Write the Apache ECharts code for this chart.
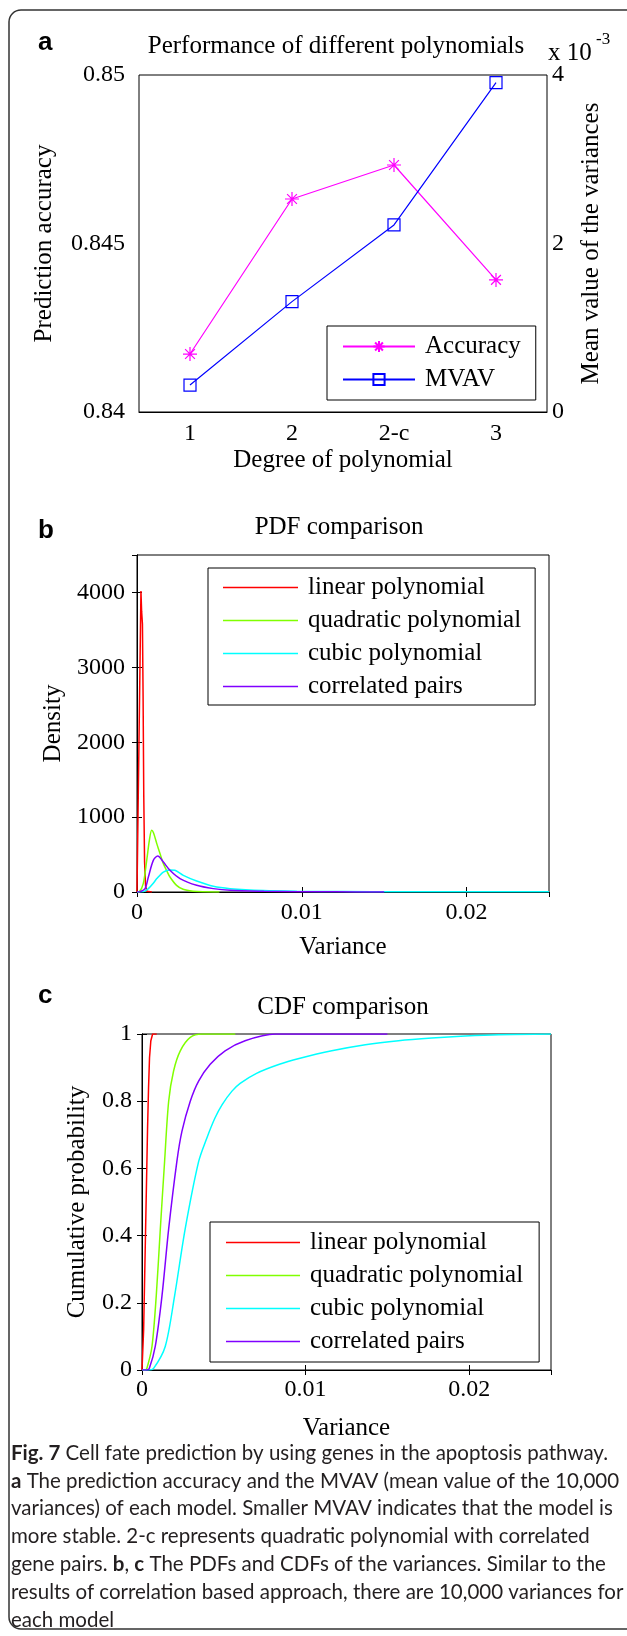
<!DOCTYPE html>
<html>
<head>
<meta charset="utf-8">
<script src="https://cdn.jsdelivr.net/npm/echarts@6/dist/echarts.min.js"></script>
<style>
  html, body { margin: 0; padding: 0; background: #fff; }
  #fig { width: 627px; height: 1636px; }
</style>
</head>
<body>
<div id="fig"></div>
<script>
// ---- panel a: performance of the polynomials ----
const degrees = ['1', '2', '2-c', '3'];
const accuracy = [0.84172, 0.84632, 0.84733, 0.84392];
const mvav = [0.32, 1.31, 2.22, 3.91]; // x 10^-3

// ---- panel b: PDF of the variances ----
const pdfLinearX = [0, 0.00006, 0.00012, 0.00018, 0.00024, 0.00028, 0.00033, 0.00037, 0.00041, 0.00046, 0.00052, 0.0006, 0.0009];
const pdfLinearY = [0, 1000, 2000, 3000, 4020, 3750, 3580, 2600, 1300, 400, 80, 10, 0];
const pdfQuadX = [0, 0.00014, 0.00038, 0.00059, 0.00075, 0.00089, 0.001, 0.0012, 0.0014, 0.0016, 0.0018, 0.002, 0.0024, 0.0028, 0.0034, 0.004, 0.005];
const pdfQuadY = [0, 5, 112, 423, 690, 824, 790, 646, 510, 379, 285, 200, 89, 36, 10, 2, 0];
const pdfCubicX = [0, 0.0004, 0.00069, 0.001, 0.0012, 0.0016, 0.002, 0.0023, 0.00281, 0.00362, 0.00463, 0.00565, 0.00767, 0.0097, 0.0125, 0.016, 0.02, 0.025];
const pdfCubicY = [0, 5, 45, 120, 179, 267, 295, 290, 223, 147, 76, 45, 19, 10, 6, 4, 3, 2];
const pdfCorrX = [0, 0.0002, 0.00049, 0.00069, 0.00099, 0.00126, 0.0016, 0.002, 0.00261, 0.00362, 0.00463, 0.00565, 0.0077, 0.0097, 0.012, 0.015];
const pdfCorrY = [0, 5, 45, 200, 423, 481, 400, 290, 179, 89, 45, 22, 10, 5, 2, 0];

// ---- panel c: CDF of the variances ----
const cdfLinearX = [0, 0.00004, 0.0001, 0.00016, 0.00022, 0.00028, 0.00034, 0.0004, 0.00046, 0.00054, 0.00065, 0.0009];
const cdfLinearY = [0, 0, 0.12, 0.27, 0.42, 0.57, 0.72, 0.84, 0.93, 0.98, 1, 1];
const cdfQuadX = [0, 0.0002, 0.0003, 0.00061, 0.00087, 0.00112, 0.00138, 0.00163, 0.00193, 0.00234, 0.00295, 0.00366, 0.0057];
const cdfQuadY = [0, 0, 0.005, 0.07, 0.22, 0.42, 0.62, 0.8, 0.89, 0.95, 0.99, 1, 1];
const cdfCubicX = [0, 0.0004, 0.00071, 0.00142, 0.00199, 0.00264, 0.00346, 0.00396, 0.00446, 0.0049, 0.0055, 0.006, 0.007, 0.0084, 0.0096, 0.0116, 0.01365, 0.01568, 0.01771, 0.01975, 0.0218, 0.025];
const cdfCubicY = [0, 0, 0.005, 0.07, 0.22, 0.42, 0.62, 0.69, 0.75, 0.79, 0.83, 0.853, 0.883, 0.91, 0.927, 0.95, 0.968, 0.98, 0.988, 0.994, 0.998, 1];
const cdfCorrX = [0, 0.0003, 0.00045, 0.00081, 0.00122, 0.00163, 0.00213, 0.00244, 0.00295, 0.00346, 0.00417, 0.00508, 0.0063, 0.00813, 0.015];
const cdfCorrY = [0, 0, 0.005, 0.07, 0.22, 0.42, 0.62, 0.71, 0.8, 0.86, 0.91, 0.95, 0.98, 1, 1];

const modelNames = ['linear polynomial', 'quadratic polynomial', 'cubic polynomial', 'correlated pairs'];
const modelColors = ['#ff0000', '#80ff00', '#00ffff', '#8000ff'];

const captionLines = [
  '{b|Fig. 7} Cell fate prediction by using genes in the apoptosis pathway.',
  '{b|a} The prediction accuracy and the MVAV (mean value of the 10,000',
  'variances) of each model. Smaller MVAV indicates that the model is',
  'more stable. 2-c represents quadratic polynomial with correlated',
  'gene pairs. {b|b}, {b|c} The PDFs and CDFs of the variances. Similar to the',
  'results of correlation based approach, there are 10,000 variances for',
  'each model'
];

const SERIF = "'Liberation Serif', 'Times New Roman', serif";
const CAPTION_FONT = 'Lato, "Open Sans", sans-serif';
const zip = (xs, ys) => xs.map((x, i) => [x, ys[i]]);

const chart = echarts.init(document.getElementById('fig'), null, { renderer: 'canvas' });

const tickStyle = { inside: true, length: 5, lineStyle: { color: '#000' } };
const lineBlack = { lineStyle: { color: '#000', width: 1 } };
const labelStyle = (margin) => ({ color: '#000', fontFamily: SERIF, fontSize: 24, margin: margin, formatter: (v) => String(v) });
const nameStyle = { color: '#000', fontFamily: SERIF, fontSize: 25 };

function valueAxis(grid, min, max, interval, extra) {
  return Object.assign({
    gridIndex: grid, type: 'value', min: min, max: max, interval: interval,
    axisLine: lineBlack, axisTick: tickStyle, splitLine: { show: false }
  }, extra);
}
const mirror = { axisLabel: { show: false } };

function legendBox(names, left, top, itemWidth, padding, lineIcon) {
  const box = {
    data: names, orient: 'vertical', left: left, top: top,
    padding: padding, itemWidth: itemWidth, itemHeight: 14, itemGap: 8,
    borderColor: '#000', borderWidth: 1, backgroundColor: '#fff',
    selectedMode: false,
    textStyle: { color: '#000', fontFamily: SERIF, fontSize: 25, lineHeight: 25, padding: [0, 0, 0, 5] }
  };
  if (lineIcon) {
    // plain line sample, no marker
    box.icon = 'rect';
    box.itemHeight = 1.6;
  }
  return box;
}

function curve(name, color, xs, ys, x, y, smooth) {
  return {
    name: name, type: 'line', xAxisIndex: x, yAxisIndex: y,
    data: zip(xs, ys), symbol: 'none', smooth: smooth,
    lineStyle: { color: color, width: 1.5 }, itemStyle: { color: color }
  };
}

const labelFont = 'bold 26px "Liberation Sans", Arial, sans-serif';
const graphics = [
  { type: 'rect', shape: { x: 9, y: 10, width: 680, height: 1619, r: 12 },
    style: { fill: 'none', stroke: '#333', lineWidth: 1.5 } },
  { type: 'text', x: 38, y: 43, style: { text: 'a', font: labelFont, fill: '#000', verticalAlign: 'middle' } },
  { type: 'text', x: 38, y: 531, style: { text: 'b', font: labelFont, fill: '#000', verticalAlign: 'middle' } },
  { type: 'text', x: 38, y: 996, style: { text: 'c', font: labelFont, fill: '#000', verticalAlign: 'middle' } },
  { type: 'text', x: 336, y: 46, style: { text: 'Performance of different polynomials', font: '25px ' + SERIF, fill: '#000', align: 'center', verticalAlign: 'middle' } },
  { type: 'text', x: 339, y: 527, style: { text: 'PDF comparison', font: '25px ' + SERIF, fill: '#000', align: 'center', verticalAlign: 'middle' } },
  { type: 'text', x: 343, y: 1007, style: { text: 'CDF comparison', font: '25px ' + SERIF, fill: '#000', align: 'center', verticalAlign: 'middle' } },
  { type: 'text', x: 548, y: 53, style: { text: 'x 10', font: '25px ' + SERIF, fill: '#000', verticalAlign: 'middle' } },
  { type: 'text', x: 596, y: 40, style: { text: '-3', font: '17px ' + SERIF, fill: '#000', verticalAlign: 'middle' } }
];
captionLines.forEach((line, i) => {
  graphics.push({
    type: 'text', x: 11, y: 1453 + i * 27.9,
    style: {
      text: line, font: '20.5px ' + CAPTION_FONT, fill: '#231f20', verticalAlign: 'middle',
      rich: { b: { fontWeight: 'bold', fontFamily: CAPTION_FONT, fontSize: 20.5, fill: '#231f20' } }
    }
  });
});

const option = {
  animation: false,
  backgroundColor: '#fff',
  grid: [
    { left: 139, top: 75, width: 408, height: 337, show: true, borderColor: '#000', borderWidth: 1, backgroundColor: 'transparent' },
    { left: 137, top: 555, width: 412, height: 337, show: true, borderColor: '#000', borderWidth: 1, backgroundColor: 'transparent' },
    { left: 142, top: 1034, width: 409, height: 336, show: true, borderColor: '#000', borderWidth: 1, backgroundColor: 'transparent' }
  ],
  xAxis: [
    { gridIndex: 0, type: 'category', data: degrees, boundaryGap: true,
      axisLine: lineBlack, axisTick: Object.assign({ alignWithLabel: true }, tickStyle),
      axisLabel: labelStyle(10),
      name: 'Degree of polynomial', nameLocation: 'middle', nameGap: 36, nameTextStyle: nameStyle },
    valueAxis(1, 0, 0.025, 0.01, { position: 'bottom', axisLabel: Object.assign({ showMaxLabel: false }, labelStyle(9)),
      name: 'Variance', nameLocation: 'middle', nameGap: 43, nameTextStyle: nameStyle }),
    valueAxis(1, 0, 0.025, 0.01, Object.assign({ position: 'top' }, mirror)),
    valueAxis(2, 0, 0.025, 0.01, { position: 'bottom', axisLabel: Object.assign({ showMaxLabel: false }, labelStyle(8)),
      name: 'Variance', nameLocation: 'middle', nameGap: 46, nameTextStyle: nameStyle }),
    valueAxis(2, 0, 0.025, 0.01, Object.assign({ position: 'top' }, mirror))
  ],
  yAxis: [
    valueAxis(0, 0.84, 0.85, 0.005, { position: 'left', axisLabel: labelStyle(14),
      name: 'Prediction accuracy', nameLocation: 'middle', nameRotate: 90, nameGap: 82, nameTextStyle: nameStyle }),
    valueAxis(0, 0, 4, 2, { position: 'right', axisLabel: labelStyle(5),
      name: 'Mean value of the variances', nameLocation: 'middle', nameRotate: 90, nameGap: 32, nameTextStyle: nameStyle }),
    valueAxis(1, 0, 4500, 1000, { position: 'left', axisLabel: Object.assign({ showMaxLabel: false }, labelStyle(12)),
      name: 'Density', nameLocation: 'middle', nameRotate: 90, nameGap: 66, nameTextStyle: nameStyle }),
    valueAxis(1, 0, 4500, 1000, Object.assign({ position: 'right' }, mirror)),
    valueAxis(2, 0, 1, 0.2, { position: 'left', axisLabel: labelStyle(10),
      name: 'Cumulative probability', nameLocation: 'middle', nameRotate: 90, nameGap: 52, nameTextStyle: nameStyle }),
    valueAxis(2, 0, 1, 0.2, Object.assign({ position: 'right' }, mirror))
  ],
  legend: [
    legendBox(['Accuracy', 'MVAV'], 327, 326, 72, [8, 15, 8, 15], false),
    legendBox(modelNames, 208, 568, 75, [7, 14, 6, 15], true),
    legendBox(modelNames, 210, 1222, 74, [8, 16, 8, 16], true)
  ],
  graphic: graphics,
  series: [
    { name: 'Accuracy', type: 'line', xAxisIndex: 0, yAxisIndex: 0, data: accuracy,
      symbol: 'path://M0 -10 L0 10 M-10 0 L10 0 M-7 -7 L7 7 M-7 7 L7 -7', symbolSize: 14,
      lineStyle: { color: '#ff00ff', width: 1.2 },
      itemStyle: { color: 'rgba(0,0,0,0)', borderColor: '#ff00ff', borderWidth: 1.2 } },
    { name: 'MVAV', type: 'line', xAxisIndex: 0, yAxisIndex: 1, data: mvav,
      symbol: 'rect', symbolSize: 12,
      lineStyle: { color: '#0000ff', width: 1.2 },
      itemStyle: { color: 'rgba(0,0,0,0)', borderColor: '#0000ff', borderWidth: 1.2 } },
    curve(modelNames[0], modelColors[0], pdfLinearX, pdfLinearY, 1, 2, false),
    curve(modelNames[1], modelColors[1], pdfQuadX, pdfQuadY, 1, 2, 0.3),
    curve(modelNames[2], modelColors[2], pdfCubicX, pdfCubicY, 1, 2, 0.3),
    curve(modelNames[3], modelColors[3], pdfCorrX, pdfCorrY, 1, 2, 0.3),
    curve(modelNames[0], modelColors[0], cdfLinearX, cdfLinearY, 3, 4, false),
    curve(modelNames[1], modelColors[1], cdfQuadX, cdfQuadY, 3, 4, 0.3),
    curve(modelNames[2], modelColors[2], cdfCubicX, cdfCubicY, 3, 4, 0.3),
    curve(modelNames[3], modelColors[3], cdfCorrX, cdfCorrY, 3, 4, 0.3)
  ]
};
chart.setOption(option);

window.addEventListener('resize', () => chart.resize());
</script>
</body>
</html>
